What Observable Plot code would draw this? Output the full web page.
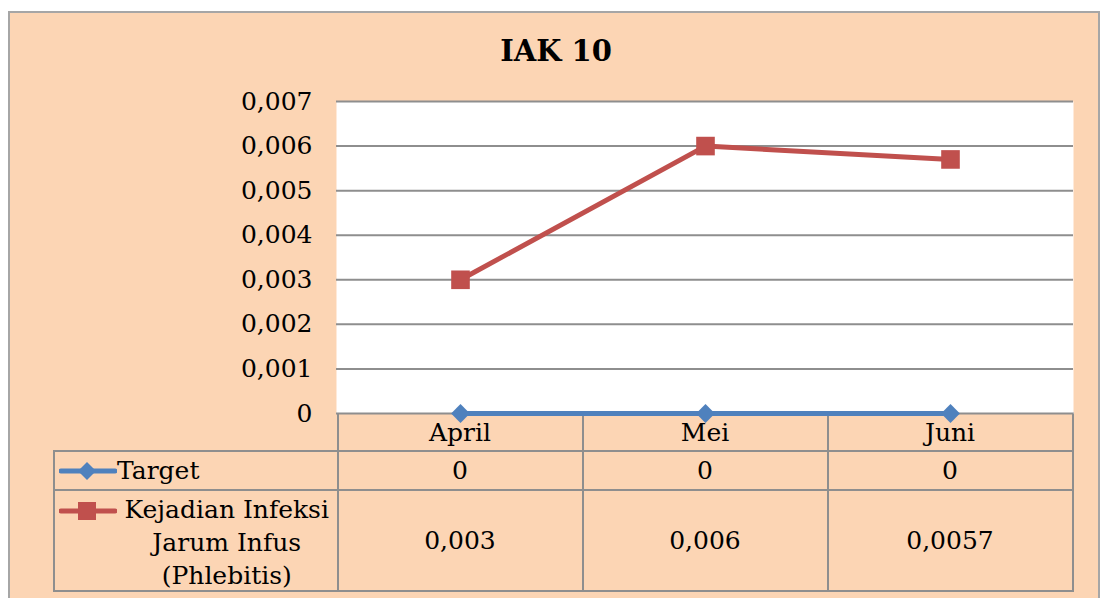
<!DOCTYPE html>
<html><head><meta charset="utf-8">
<script src="https://cdn.jsdelivr.net/npm/d3@7"></script>
<script src="https://cdn.jsdelivr.net/npm/@observablehq/plot@0.6"></script>
<style>
body{margin:0;background:#fff;width:1103px;height:598px;overflow:hidden;position:relative;font-family:"DejaVu Serif",serif;color:#000;}
#frame{position:absolute;left:8px;top:11px;width:1092px;height:600px;background:#FCD5B4;border:2px solid #A6A6A6;box-sizing:border-box;}
#title{position:absolute;left:0;width:1112px;top:33px;text-align:center;font-weight:bold;font-size:29px;line-height:36px;}
#table{position:absolute;left:0;top:0;}
#chart{position:absolute;left:0;top:0;}
.cell{position:absolute;box-sizing:border-box;border:2px solid #8E8E8E;display:flex;align-items:center;justify-content:center;text-align:center;font-size:25px;}
.vline{position:absolute;background:#8E8E8E;}
</style></head>
<body>
<div id="frame"></div>
<div id="title">IAK 10</div>
<div id="table"></div>
<div id="chart"></div>
<script>
// ---- data ----
const months = ["April", "Mei", "Juni"];
const targetValues = [0, 0, 0];
const infeksiValues = [0.003, 0.006, 0.0057];
const yTicks = [0, 0.001, 0.002, 0.003, 0.004, 0.005, 0.006, 0.007];
const seriesNames = ["Target", "Kejadian Infeksi Jarum Infus (Phlebitis)"];
const legendLines = [["Target"], ["Kejadian Infeksi", "Jarum Infus", "(Phlebitis)"]];
const seriesColors = ["#4F81BD", "#C0504D"];
const seriesSymbols = ["diamond2", "square"];

const fmt = v => String(v).replace(".", ",");

const data = months.flatMap((m, i) => [
  {month: m, series: seriesNames[0], value: targetValues[i]},
  {month: m, series: seriesNames[1], value: infeksiValues[i]}
]);
const s0 = data.filter(d => d.series === seriesNames[0]);
const s1 = data.filter(d => d.series === seriesNames[1]);

const chart = Plot.plot({
  width: 1103, height: 430,
  marginLeft: 336, marginRight: 30, marginTop: 101, marginBottom: 17,
  style: {background: "transparent", fontFamily: "DejaVu Serif", fontSize: "25px", color: "#000", overflow: "visible"},
  x: {type: "point", domain: months, padding: 0.5, axis: null},
  y: {domain: [0, 0.007], axis: null},
  marks: [
    Plot.frame({fill: "white", stroke: null}),
    Plot.ruleY(yTicks, {stroke: "#8E8E8E", strokeWidth: 2}),
    Plot.axisY({ticks: yTicks, tickFormat: fmt, tickSize: 0, tickPadding: 24, fontSize: 25, label: null}),
    Plot.lineY(s1, {x: "month", y: "value", stroke: seriesColors[1], strokeWidth: 5}),
    Plot.dot(s1, {x: "month", y: "value", symbol: seriesSymbols[1], r: 10.5, fill: seriesColors[1], stroke: null}),
    Plot.lineY(s0, {x: "month", y: "value", stroke: seriesColors[0], strokeWidth: 5}),
    Plot.dot(s0, {x: "month", y: "value", symbol: seriesSymbols[0], r: 8.5, fill: seriesColors[0], stroke: null})
  ]
});
document.getElementById("chart").appendChild(chart);

// ---- data table under the chart, columns aligned to the x scale ----
const xs = chart.scale("x");
const step = xs.step;
const colLeft = m => xs.apply(m) - step / 2;
const plotLeft = colLeft(months[0]);
const rows = [[413, 451], [451, 490], [490, 591]];
const legendLeft = 54;
const tbl = document.getElementById("table");
function cell(x0, x1, y0, y1, html) {
  const d = document.createElement("div");
  d.className = "cell";
  d.style.left = (x0 - 1) + "px"; d.style.width = (x1 - x0 + 2) + "px";
  d.style.top = (y0 - 1) + "px"; d.style.height = (y1 - y0 + 2) + "px";
  if (html != null) d.innerHTML = html;
  tbl.appendChild(d);
  return d;
}
// left edge of the plot
const vl = document.createElement("div");
vl.className = "vline";
vl.style.left = (plotLeft - 1) + "px"; vl.style.width = "2px";
vl.style.top = "101px"; vl.style.height = "313px";
tbl.appendChild(vl);

months.forEach((m, i) => {
  const x0 = colLeft(m), x1 = x0 + step;
  cell(x0, x1, rows[0][0], rows[0][1], m);
  cell(x0, x1, rows[1][0], rows[1][1], fmt(targetValues[i]));
  cell(x0, x1, rows[2][0], rows[2][1], fmt(infeksiValues[i]));
});
[0, 1].forEach(k => {
  const r = rows[k + 1];
  const c = cell(legendLeft, plotLeft, r[0], r[1]);
  c.style.justifyContent = "flex-start";
  c.style.alignItems = "flex-start";
  const col = seriesColors[k];
  const marker = k === 0
    ? `<path d="M28 9 L37 18 L28 27 L19 18 Z" fill="${col}"/>`
    : `<rect x="19" y="9" width="18" height="18" fill="${col}"/>`;
  const icon = `<svg width="58" height="36" style="position:absolute;left:4px;top:${k===0?1:2}px"><line x1="2" y1="18" x2="56" y2="18" stroke="${col}" stroke-width="5" stroke-linecap="round"/>${marker}</svg>`;
  const txt = `<div style="position:absolute;left:62px;right:0px;top:2px;line-height:33px;text-align:${k===0?'left':'center'}">${legendLines[k].join("<br>")}</div>`;
  c.innerHTML = icon + txt;
});
</script>
</body></html>
